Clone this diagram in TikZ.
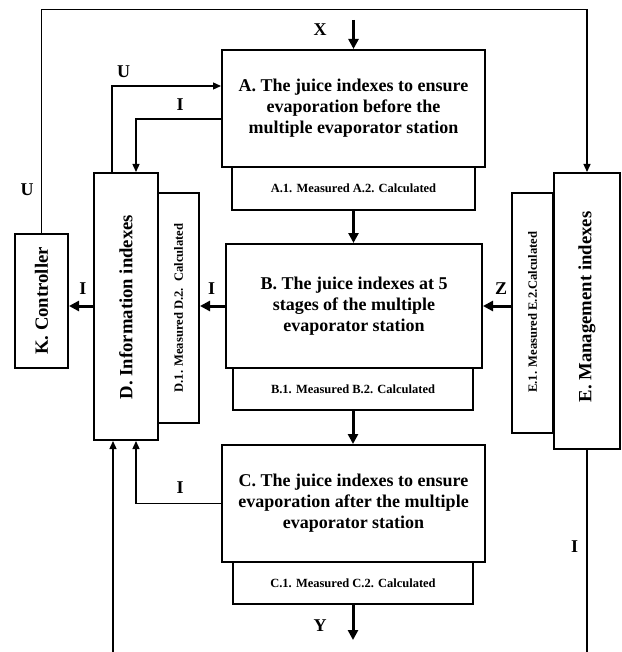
\documentclass[tikz,border=0pt]{standalone}
\usepackage{fontspec}
\setmainfont{Liberation Serif}
\usetikzlibrary{arrows.meta,calc}
\begin{document}
\begin{tikzpicture}[x=1pt,y=-1pt,
  box/.style={draw,line width=2pt,inner sep=0pt,align=center,fill=white,font=\fontsize{18}{21}\selectfont\bfseries},
  subbox/.style={draw,line width=2pt,inner sep=0pt,fill=white,font=\fontsize{12.5}{14}\selectfont\bfseries},
  vbox/.style={draw,line width=2pt,inner sep=0pt,fill=white},
  vtext/.style={rotate=90,inner sep=0pt,font=\fontsize{18.7}{21}\selectfont\bfseries},
  vsub/.style={rotate=90,inner sep=0pt,font=\fontsize{12.6}{14}\selectfont\bfseries},
  thinarrow/.style={line width=1.3pt,-{Triangle[length=8pt,width=7pt]}},
  thinline/.style={line width=1.3pt},
  thickarrow/.style={line width=3pt,-{Triangle[length=10pt,width=10pt]}},
  lab/.style={inner sep=0pt,font=\fontsize{18}{21}\selectfont\bfseries}]
\useasboundingbox (0,0) rectangle (621,652);

% sub boxes (behind)
\node[subbox,minimum width=243pt,minimum height=43pt] (sA) at (353.5,188.5) {A.1. Measured A.2. Calculated};
\node[subbox,minimum width=240pt,minimum height=42pt] (sB) at (353,389) {B.1. Measured B.2. Calculated};
\node[subbox,minimum width=240pt,minimum height=42pt] (sC) at (353,583) {C.1. Measured C.2. Calculated};
\node[vbox,minimum width=41pt,minimum height=230pt] (sD) at (178.5,308) {};
\node[vsub] (sDt) at (sD.center) {D.1. Measured D.2.\ \ Calculated};
\node[vbox,minimum width=41pt,minimum height=240pt] (sE) at (532.5,313) {};
\node[vsub] (sEt) at ($(sE.center)+(0,-1)$) {E.1. Measured E.2.Calculated};

% main boxes
\node[box,minimum width=263pt,minimum height=117pt] (A) at (353.5,108.5)
  {A. The juice indexes to ensure\\evaporation before the\\multiple evaporator station};
\node[box,minimum width=256pt,minimum height=124pt] (B) at (354,306)
  {B. The juice indexes at 5\\stages of the multiple\\evaporator station};
\node[box,minimum width=263pt,minimum height=117pt] (C) at (353.5,503.5)
  {C. The juice indexes to ensure\\evaporation after the multiple\\evaporator station};
\node[vbox,minimum width=64pt,minimum height=267pt] (D) at (126,306.5) {};
\node[vtext] (Dt) at ($(D.center)+(0,0.5)$) {D. Information indexes};
\node[vbox,minimum width=66pt,minimum height=276pt] (E) at (587,311) {};
\node[vtext] (Et) at ($(E.center)+(0,-4)$) {E. Management indexes};
\node[vbox,minimum width=53pt,minimum height=134pt] (K) at (41.5,301) {};
\node[vtext] (Kt) at (K.center) {K. Controller};

% free ends
\coordinate (xin) at (353.5,20);
\coordinate (yout) at (353,640);
\coordinate (top) at (300,9.5);
\coordinate (bl) at (113,652);
\coordinate (br) at (587,652);

% thick connectors
\draw[thickarrow] (xin) -- (A.north);
\draw[thickarrow] (sA.south) -- (sA.south |- B.north);
\draw[thickarrow] (sB.south) -- (sB.south |- C.north);
\draw[thickarrow] (sC.south) -- (sC.south |- yout);
\draw[thickarrow] (B.west) -- (B.west -| sD.east);
\draw[thickarrow] (D.west |- B.west) -- (B.west -| K.east);
\draw[thickarrow] (sE.west |- B.east) -- (B.east);

% thin connectors
\draw[thinarrow] (K.north) |- (top) -| (E.north);
\draw[thinarrow] ([xshift=19pt]D.north west) |- ([yshift=22.5pt]A.west);
\draw[thinarrow] ([yshift=-10.5pt]A.west) -| ([xshift=43pt]D.north west);
\draw[thinarrow] (C.west) -| ([xshift=43pt]D.south west);
\draw[thinarrow] (bl) -- (bl |- D.south);
\draw[thinline] (E.south) -- (br);

% labels
\node[lab] (lX) at (320,30) {X};
\node[lab] (lY) at (320,626) {Y};
\node[lab] (lU1) at (123.5,71.5) {U};
\node[lab] (lI1) at (180,104.5) {I};
\node[lab] (lU2) at (27,190) {U};
\node[lab] (lI2) at (83,289) {I};
\node[lab] (lI3) at (211.5,289) {I};
\node[lab] (lZ) at (501,289) {Z};
\node[lab] (lI4) at (180,488) {I};
\node[lab] (lI5) at (574.5,546.5) {I};
\end{tikzpicture}
\end{document}
